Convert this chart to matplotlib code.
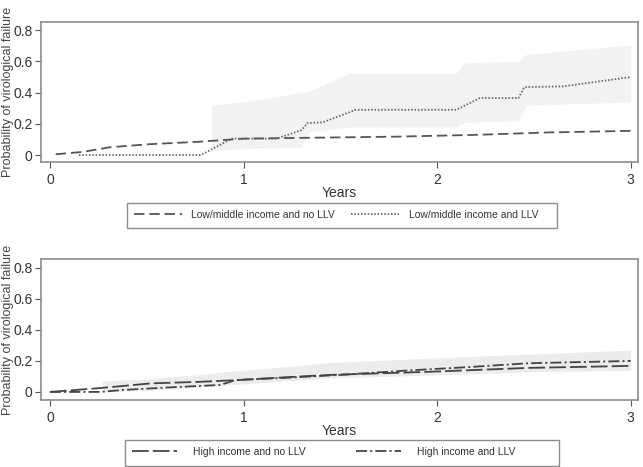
import numpy as np
import matplotlib
matplotlib.use("Agg")
import matplotlib.pyplot as plt
from matplotlib.patches import Rectangle

plt.rcParams['font.family'] = ['Liberation Sans', 'DejaVu Sans']
plt.rcParams['lines.scale_dashes'] = False

# ---------------- data ----------------
# top panel: low/middle income
t_lm_no = [0.03, 0.17, 0.31, 0.52, 0.77, 1.0, 1.3, 1.8, 2.22, 2.58, 3.0]
p_lm_no = [0.005, 0.02, 0.05, 0.07, 0.085, 0.105, 0.11, 0.118, 0.13, 0.145, 0.155]

t_lm_llv = [0.15, 0.78, 0.94, 1.17, 1.30, 1.33, 1.41, 1.58, 2.10, 2.22, 2.42, 2.45, 2.65, 3.0]
p_lm_llv = [0, 0, 0.105, 0.105, 0.16, 0.205, 0.21, 0.29, 0.29, 0.365, 0.365, 0.435, 0.44, 0.50]

t_lm_ci = [0.835, 1.0, 1.30, 1.34, 1.55, 2.10, 2.14, 2.42, 2.46, 3.0]
lo_lm_ci = [0.03, 0.04, 0.05, 0.15, 0.18, 0.18, 0.21, 0.22, 0.32, 0.34]
hi_lm_ci = [0.32, 0.34, 0.40, 0.41, 0.525, 0.525, 0.59, 0.60, 0.645, 0.705]

# bottom panel: high income
t_hi_no = [0, 0.26, 0.52, 0.77, 0.98, 1.15, 1.45, 1.96, 2.47, 3.0]
p_hi_no = [0, 0.025, 0.055, 0.065, 0.077, 0.09, 0.11, 0.13, 0.155, 0.168]

t_hi_llv = [0, 0.26, 0.38, 0.63, 0.88, 0.96, 1.2, 1.5, 1.87, 2.16, 2.47, 3.0]
p_hi_llv = [0, 0.0, 0.013, 0.03, 0.045, 0.077, 0.09, 0.11, 0.14, 0.16, 0.185, 0.20]

t_hi_ci = [0.27, 0.5, 0.75, 0.98, 1.15, 1.45, 2.0, 2.5, 3.0]
lo_hi_ci = [0.0, 0.01, 0.03, 0.05, 0.065, 0.09, 0.11, 0.13, 0.14]
hi_hi_ci = [0.07, 0.085, 0.11, 0.14, 0.155, 0.19, 0.22, 0.245, 0.27]

x_ticks = [0, 1, 2, 3]
y_ticks = [0, 0.2, 0.4, 0.6, 0.8]
y_tick_labels = ["0", "0.2", "0.4", "0.6", "0.8"]
ylab = "Probability of virological failure"

W, H = 643, 467
fig = plt.figure(figsize=(W / 100, H / 100), dpi=100)
ax1 = fig.add_axes([0.0638, 0.653, 0.928, 0.300])
ax2 = fig.add_axes([0.0638, 0.1435, 0.928, 0.302])


def style_axes(ax, ylim):
    ax.set_xlim(-0.046, 3.036)
    ax.set_ylim(*ylim)
    ax.set_xticks(x_ticks)
    ax.set_xticklabels([str(v) for v in x_ticks])
    ax.set_yticks(y_ticks)
    ax.set_yticklabels(y_tick_labels)
    for s in ax.spines.values():
        s.set_color('#8c8c8c')
        s.set_linewidth(1.2)
    ax.tick_params(direction='out', length=4, width=0.8, color='#555555',
                   labelsize=10, labelcolor='#333333', pad=2)
    ax.tick_params(axis='x', pad=4)
    ax.set_xlabel("Years", fontsize=10, color='#333333', labelpad=-1)
    ax.set_ylabel(ylab, fontsize=9, color='#444444')
    ax.yaxis.set_label_coords(-0.045, 0.5)


def legend_box(x0, y0, x1, y1):
    # frame around a legend, given in pixels from top-left
    fig.add_artist(Rectangle((x0 / W, 1 - y1 / H), (x1 - x0) / W, (y1 - y0) / H,
                             transform=fig.transFigure, fill=False,
                             edgecolor='#8c8c8c', lw=1.0))


# top panel
ax1.fill_between(t_lm_ci, lo_lm_ci, hi_lm_ci, color='#f2f2f2', lw=0, zorder=1)
l1, = ax1.plot(t_lm_no, p_lm_no, color='#555555', lw=1.3,
               linestyle=(0, (7.5, 3.5)), zorder=3)
l2, = ax1.plot(t_lm_llv, p_lm_llv, color='#666666', lw=1.3,
               linestyle=(0, (1.1, 1.3)), zorder=3)
style_axes(ax1, (-0.045, 0.853))

fig.legend([l1, l2], ["Low/middle income and no LLV", "Low/middle income and LLV"],
           loc='upper left', ncol=2, bbox_to_anchor=(0.1975, 0.5653),
           fontsize=7.5, handlelength=4.6, handletextpad=0.9, columnspacing=1.6,
           frameon=False, borderpad=0.65, borderaxespad=0, labelcolor='#333333')
legend_box(127, 203, 557, 228)

# bottom panel
ax2.fill_between(t_hi_ci, lo_hi_ci, hi_hi_ci, color='#ececec', lw=0, zorder=1)
l3, = ax2.plot(t_hi_no, p_hi_no, color='#444444', lw=1.3,
               linestyle=(0, (12, 3)), zorder=3)
l4, = ax2.plot(t_hi_llv, p_hi_llv, color='#444444', lw=1.3,
               linestyle=(0, (8, 2.2, 1.5, 2.2)), zorder=3)
style_axes(ax2, (-0.052, 0.858))

fig.legend([l3, l4], ["High income and no LLV", "High income and LLV"],
           loc='upper left', ncol=2, bbox_to_anchor=(0.1944, 0.0578),
           fontsize=7.5, handlelength=4.3, handletextpad=1.6, columnspacing=4.8,
           frameon=False, borderpad=0.65, borderaxespad=0, labelcolor='#333333')
legend_box(125, 440, 559, 466)

fig.savefig("out.png", dpi=100)
